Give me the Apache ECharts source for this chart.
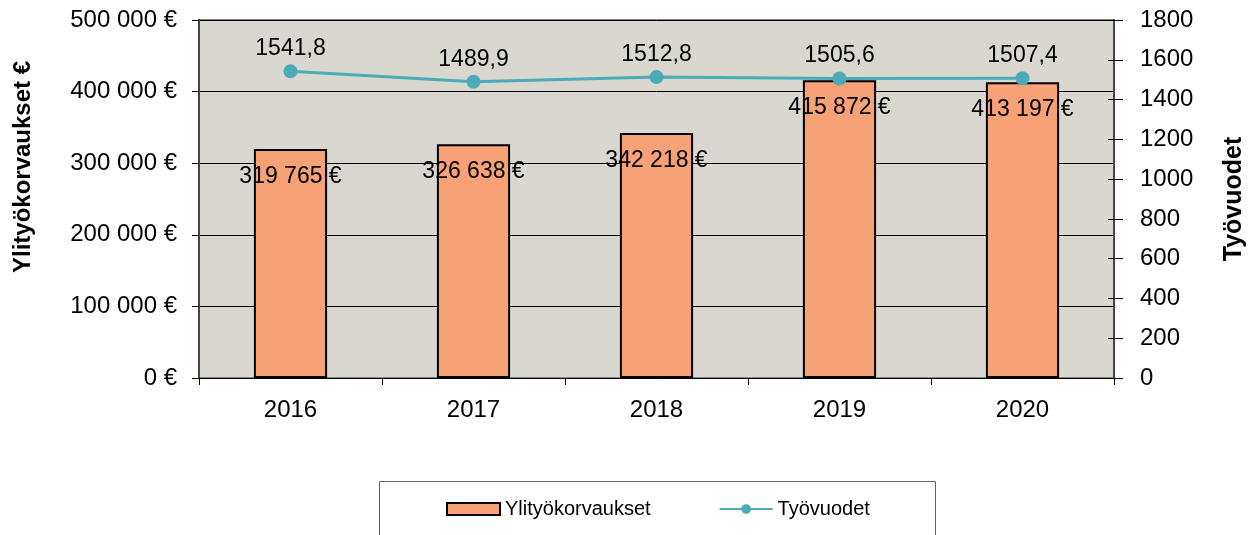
<!DOCTYPE html>
<html>
<head>
<meta charset="utf-8">
<script src="https://cdn.jsdelivr.net/npm/echarts@6/dist/echarts.min.js"></script>
<style>
  html, body { margin: 0; padding: 0; background: #fff; }
  #main { width: 1257px; height: 535px; }
</style>
</head>
<body>
<div id="main"></div>
<script>
// data
const years = ['2016', '2017', '2018', '2019', '2020'];
const korvaukset = [319765, 326638, 342218, 415872, 413197];
const tyovuodet = [1541.8, 1489.9, 1512.8, 1505.6, 1507.4];

const font = 'Liberation Sans, Arial, sans-serif';

function euro(v) {
  return String(Math.round(v)).replace(/\B(?=(\d{3})+(?!\d))/g, ' ') + ' €';
}
function comma(v) {
  return v.toFixed(1).replace('.', ',');
}

const chart = echarts.init(document.getElementById('main'), null, { renderer: 'canvas' });

const option = {
  animation: false,
  textStyle: { fontFamily: font },
  grid: {
    left: 199, right: 143, top: 20, bottom: 157,
    show: true,
    backgroundColor: '#D9D7D0',
    borderColor: '#8a8a8a',
    borderWidth: 2
  },
  legend: {
    top: 499,
    left: 446,
    padding: 0,
    itemWidth: 53,
    itemHeight: 12,
    itemGap: 68,
    textStyle: { fontSize: 20, color: '#000', fontFamily: font },
    data: [
      { name: 'Ylityökorvaukset', icon: 'rect', itemStyle: { borderColor: '#000', borderWidth: 2 } },
      { name: 'Työvuodet' }
    ]
  },
  graphic: [{
    type: 'rect',
    shape: { x: 379.5, y: 481.5, width: 556, height: 70 },
    style: { fill: 'none', stroke: '#666', lineWidth: 1 },
    z: -1
  }],
  xAxis: {
    type: 'category',
    data: years,
    axisLine: { lineStyle: { color: '#000', width: 1 } },
    axisTick: { show: true, length: 7, lineStyle: { color: '#000' } },
    axisLabel: { fontSize: 24, color: '#000', margin: 20 }
  },
  yAxis: [{
    type: 'value',
    min: 0, max: 500000, interval: 100000,
    name: 'Ylityökorvaukset €',
    nameLocation: 'middle',
    nameRotate: 90,
    nameGap: 164,
    nameTextStyle: { fontSize: 24, fontWeight: 'bold', color: '#000', padding: [0, 0, 0, 64] },
    axisLine: { show: true, lineStyle: { color: '#444', width: 2 } },
    axisTick: { show: true, length: 7, lineStyle: { color: '#000' } },
    axisLabel: { fontSize: 24, color: '#000', margin: 22, formatter: euro },
    splitLine: { show: true, lineStyle: { color: '#000', width: 1 } }
  }, {
    type: 'value',
    min: 0, max: 1800, interval: 200,
    name: 'Työvuodet',
    nameLocation: 'middle',
    nameRotate: 90,
    nameGap: 108,
    nameTextStyle: { fontSize: 25, fontWeight: 'bold', color: '#000' },
    axisLine: { show: true, lineStyle: { color: '#444', width: 2 } },
    axisTick: { show: true, length: 9, lineStyle: { color: '#000' } },
    axisLabel: { fontSize: 24, color: '#000', margin: 26, formatter: v => String(v) },
    splitLine: { show: false }
  }, {
    // inner half of the crossing ticks on the right axis
    type: 'value',
    position: 'right',
    min: 0, max: 1800, interval: 200,
    axisLine: { show: false },
    axisTick: { show: true, inside: true, length: 6, lineStyle: { color: '#000' } },
    axisLabel: { show: false },
    splitLine: { show: false }
  }],
  series: [{
    name: 'Ylityökorvaukset',
    type: 'bar',
    yAxisIndex: 0,
    data: korvaukset,
    barWidth: '40%',
    itemStyle: { color: '#F7A177', borderColor: '#000', borderWidth: 2 },
    label: {
      show: true,
      position: 'insideTop',
      distance: 16,
      fontSize: 23,
      color: '#000',
      formatter: p => euro(p.value)
    },
    z: 2
  }, {
    name: 'Työvuodet',
    type: 'line',
    yAxisIndex: 1,
    data: tyovuodet,
    symbol: 'circle',
    symbolSize: 14,
    itemStyle: { color: '#4BACB8' },
    lineStyle: { color: '#4BACB8', width: 3 },
    label: {
      show: true,
      position: 'top',
      distance: 4,
      fontSize: 23,
      color: '#000',
      formatter: p => comma(p.value)
    },
    z: 3
  }]
};

chart.setOption(option);
</script>
</body>
</html>
